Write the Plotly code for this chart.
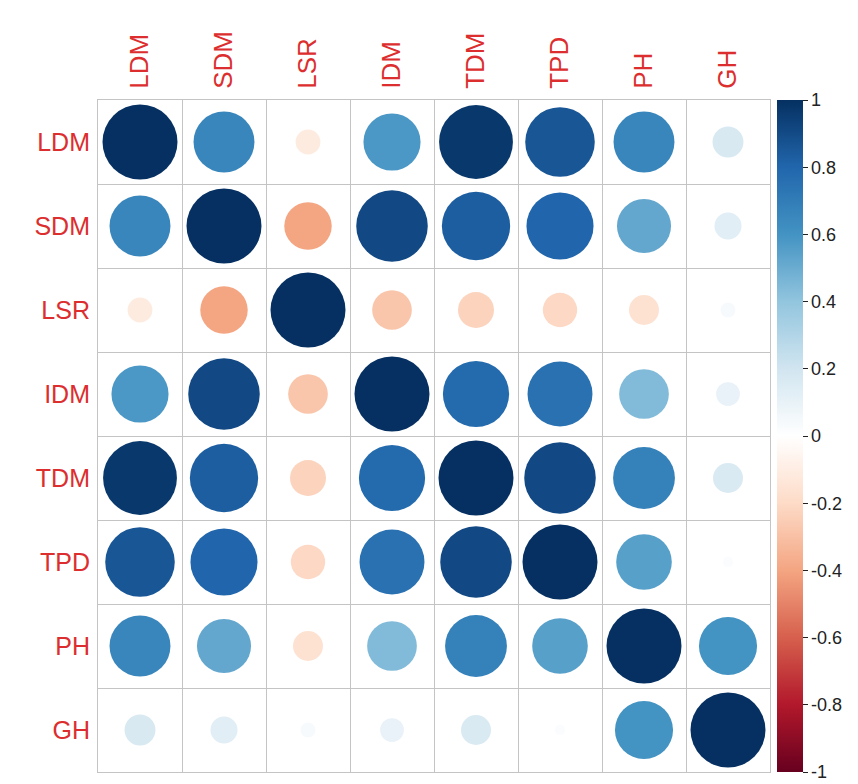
import numpy as np
import plotly.graph_objects as go

variables = ["LDM", "SDM", "LSR", "IDM", "TDM", "TPD", "PH", "GH"]

r_LDM = [1.00, 0.66, -0.11, 0.58, 0.97, 0.86, 0.66, 0.17]
r_SDM = [0.66, 1.00, -0.40, 0.91, 0.83, 0.80, 0.52, 0.13]
r_LSR = [-0.11, -0.40, 1.00, -0.28, -0.23, -0.21, -0.16, 0.04]
r_IDM = [0.58, 0.91, -0.28, 1.00, 0.78, 0.75, 0.44, 0.10]
r_TDM = [0.97, 0.83, -0.23, 0.78, 1.00, 0.91, 0.68, 0.16]
r_TPD = [0.86, 0.80, -0.21, 0.75, 0.91, 1.00, 0.55, 0.02]
r_PH = [0.66, 0.52, -0.16, 0.44, 0.68, 0.55, 1.00, 0.60]
r_GH = [0.17, 0.13, 0.04, 0.10, 0.16, 0.02, 0.60, 1.00]

cbar_ticks = [-1, -0.8, -0.6, -0.4, -0.2, 0, 0.2, 0.4, 0.6, 0.8, 1]
cbar_text = ["-1", "-0.8", "-0.6", "-0.4", "-0.2", "0", "0.2", "0.4", "0.6", "0.8", "1"]

rows = [r_LDM, r_SDM, r_LSR, r_IDM, r_TDM, r_TPD, r_PH, r_GH]
M = np.array(rows)
n = len(variables)

palette = ["#67001F", "#B2182B", "#D6604D", "#F4A582", "#FDDBC7", "#FFFFFF",
           "#D1E5F0", "#92C5DE", "#4393C3", "#2166AC", "#053061"]
colorscale = [[i / (len(palette) - 1), c] for i, c in enumerate(palette)]

xs, ys, vals = [], [], []
for i in range(n):
    for j in range(n):
        xs.append(j + 1)
        ys.append(i + 1)
        vals.append(M[i, j])
vals = np.array(vals)

MAXD = 75.0
sizes = MAXD * np.sqrt(np.abs(vals))

fig = go.Figure()
fig.add_trace(go.Scatter(
    x=xs, y=ys, mode="markers",
    marker=dict(
        size=sizes, color=vals, colorscale=colorscale, cmin=-1, cmax=1,
        opacity=1,
        line=dict(width=0),
        showscale=True,
        colorbar=dict(
            x=1.0105, xanchor="left", xpad=0, ypad=0,
            y=0.5, yanchor="middle", len=1.0, lenmode="fraction",
            thickness=26, outlinewidth=0,
            tickmode="array", tickvals=cbar_ticks, ticktext=cbar_text,
            ticks="outside", ticklen=5, tickcolor="#222", tickwidth=1,
            tickfont=dict(family="Liberation Sans, Arial", size=18, color="#222"),
        ),
    ),
    hoverinfo="skip",
    showlegend=False,
))

grid_color = "#c4c4c4"
axis_common = dict(
    showgrid=False, zeroline=False, automargin=False,
    showline=True, mirror=True, linecolor=grid_color, linewidth=1,
    ticks="",
    minor=dict(tick0=0.5, dtick=1, showgrid=True, gridcolor=grid_color, gridwidth=1, ticks=""),
    range=[0.5, n + 0.5],
    fixedrange=True,
)

fig.update_layout(
    width=850, height=776,
    margin=dict(l=90, r=88, t=92, b=12, autoexpand=False),
    paper_bgcolor="white", plot_bgcolor="white",
    xaxis=dict(axis_common, side="top", tickmode="array",
               tickvals=list(range(1, n + 1)), ticktext=variables,
               tickangle=-90, ticklabelstandoff=5,
               tickfont=dict(family="Liberation Sans, Arial", size=26, color="#dc2e2e")),
    yaxis=dict(axis_common, tickmode="array",
               tickvals=list(range(1, n + 1)), ticktext=variables,
               range=[n + 0.5, 0.5], ticklabelstandoff=2,
               tickfont=dict(family="Liberation Sans, Arial", size=25, color="#dc2e2e")),
)

fig.write_html("out.html")
